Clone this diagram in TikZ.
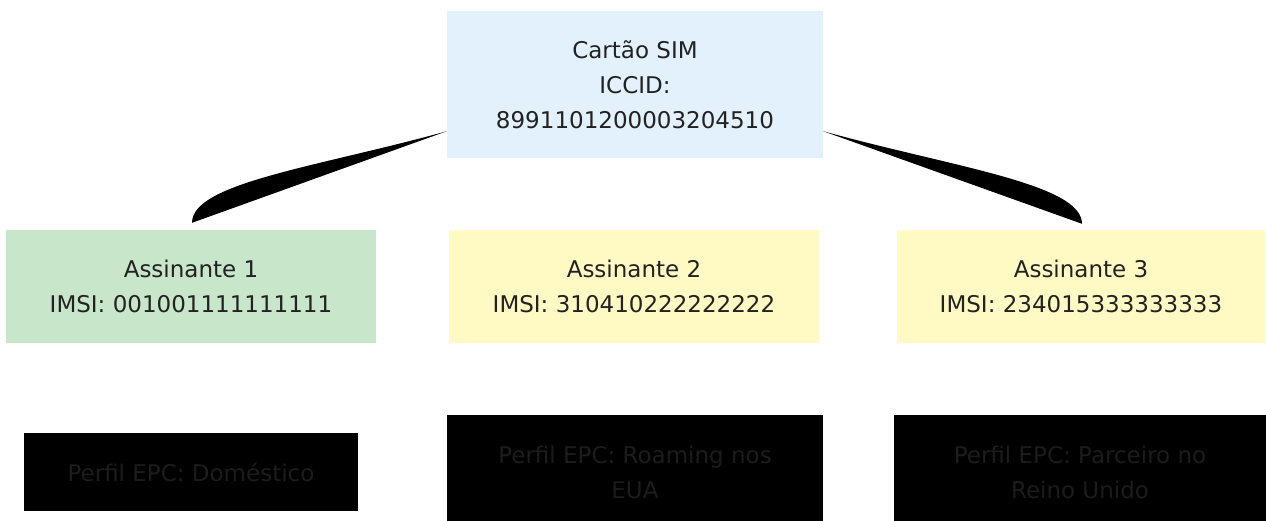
\documentclass[tikz,border=0pt]{standalone}
\usepackage{fontspec}
\setmainfont{DejaVu Sans}
\usetikzlibrary{calc}
\definecolor{simblue}{HTML}{E3F1FC}
\definecolor{subgreen}{HTML}{C8E6C9}
\definecolor{subyellow}{HTML}{FFF9C4}
\definecolor{txt}{HTML}{222222}
\definecolor{darktxt}{HTML}{1C1C1C}
\tikzset{
  box/.style={rectangle, draw=none, align=center, text=txt, inner sep=0pt,
    font=\fontsize{23}{35}\selectfont},
  profile/.style={box, fill=black, text=darktxt},
  wedge/.style={fill=black, draw=none}
}
\begin{document}
\begin{tikzpicture}[x=1pt, y=-1pt]
\clip (0,0) rectangle (1266,520);
\fill[white] (0,0) rectangle (1266,520);
\node[box, fill=simblue, minimum width=376pt, minimum height=147pt] (sim) at (635,84.5)
  {Cartão SIM\\ICCID:\\8991101200003204510};
\node[box, fill=subgreen, minimum width=370pt, minimum height=113pt] (a1) at (191,286.5)
  {Assinante 1\\IMSI: 001001111111111};
\node[box, fill=subyellow, minimum width=370pt, minimum height=113pt] (a2) at (634,286.5)
  {Assinante 2\\IMSI: 310410222222222};
\node[box, fill=subyellow, minimum width=368pt, minimum height=113pt] (a3) at (1081,286.5)
  {Assinante 3\\IMSI: 234015333333333};
\node[profile, minimum width=334pt, minimum height=78pt] (p1) at (191,472)
  {Perfil EPC: Doméstico};
\node[profile, minimum width=376pt, minimum height=114pt] (p2) at (635,472)
  {Perfil EPC: Roaming nos\\EUA};
\node[profile, minimum width=372pt, minimum height=114pt] (p3) at (1080,472)
  {Perfil EPC: Parceiro no\\Reino Unido};
% tapered connectors
\coordinate (s1) at ($(sim.south west)+(0,-27)$);
\coordinate (e1) at ($(a1.north)+(1,-7)$);
\fill[wedge] (s1) .. controls ($(s1)+(-130,36)$) and ($(e1)+(0,-40)$) .. (e1) -- cycle;
\coordinate (s3) at ($(sim.south east)+(0,-27)$);
\coordinate (e3) at ($(a3.north)+(1,-6)$);
\fill[wedge] (s3) .. controls ($(s3)+(130,36)$) and ($(e3)+(0,-40)$) .. (e3) -- cycle;
\end{tikzpicture}
\end{document}
